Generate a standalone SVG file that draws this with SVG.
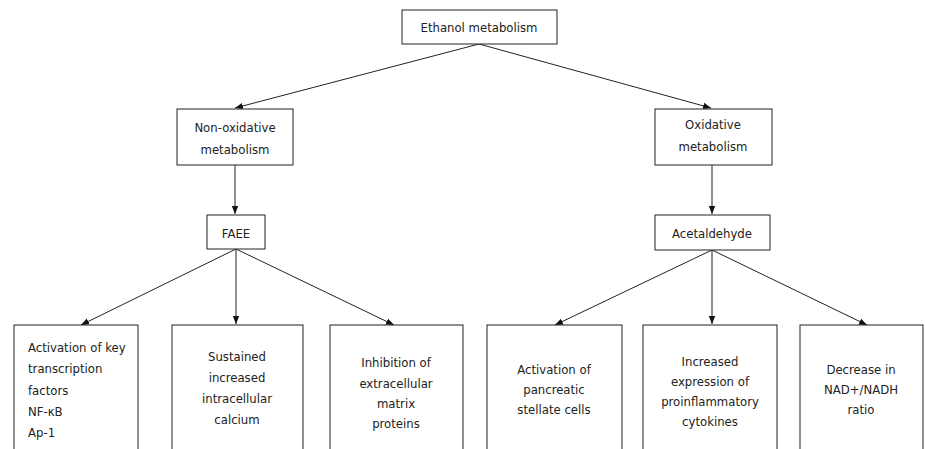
<svg xmlns="http://www.w3.org/2000/svg" width="925" height="449" viewBox="0 0 925 449">
<defs>
<marker id="ah" markerWidth="8" markerHeight="8" refX="8" refY="4" orient="auto" markerUnits="userSpaceOnUse">
<path d="M0,0.8 L8,4 L0,7.2 Z" fill="#111"/>
</marker>
<style>
rect{fill:#fff;stroke:#222;stroke-width:1}
text{font-family:"DejaVu Sans Condensed","DejaVu Sans",sans-serif;font-size:13px;fill:#222}
.c{text-anchor:middle}
#connectors line{stroke:#222;stroke-width:1;marker-end:url(#ah)}
</style>
</defs>
<rect x="0" y="0" width="925" height="449" style="fill:#fff;stroke:none"/>
<g id="connectors">
<line x1="479" y1="44" x2="235" y2="108"/>
<line x1="479" y1="44" x2="711" y2="108"/>
<line x1="235" y1="165" x2="235" y2="214"/>
<line x1="712" y1="165" x2="712" y2="214"/>
<line x1="236" y1="249" x2="81" y2="325"/>
<line x1="236" y1="249" x2="236" y2="324"/>
<line x1="236" y1="249" x2="394" y2="325"/>
<line x1="712" y1="250" x2="555" y2="325"/>
<line x1="712" y1="250" x2="712" y2="324"/>
<line x1="712" y1="250" x2="867" y2="325"/>
</g>
<g id="ethanol"><rect x="402" y="10" width="155" height="34"/><text class="c" x="479" y="32">Ethanol metabolism</text></g>
<g id="nonox"><rect x="177" y="109" width="116" height="56"/><text class="c" x="235" y="132">Non-oxidative</text><text class="c" x="235" y="154">metabolism</text></g>
<g id="ox"><rect x="655" y="109" width="117" height="56"/><text class="c" x="713" y="129">Oxidative</text><text class="c" x="713" y="151">metabolism</text></g>
<g id="faee"><rect x="207" y="215" width="58" height="34"/><text class="c" x="236" y="238">FAEE</text></g>
<g id="acet"><rect x="655" y="215" width="115" height="35"/><text class="c" x="712" y="238">Acetaldehyde</text></g>
<g id="b1"><rect x="14" y="325" width="124" height="130"/>
<text x="28" y="352">Activation of key</text><text x="28" y="373">transcription</text><text x="28" y="395">factors</text><text x="28" y="416">NF-κB</text><text x="28" y="437">Ap-1</text></g>
<g id="b2"><rect x="172" y="325" width="131" height="130"/>
<text class="c" x="237" y="361">Sustained</text><text class="c" x="237" y="382">increased</text><text class="c" x="237" y="403">intracellular</text><text class="c" x="237" y="424">calcium</text></g>
<g id="b3"><rect x="330" y="325" width="133" height="130"/>
<text class="c" x="396" y="367">Inhibition of</text><text class="c" x="396" y="388">extracellular</text><text class="c" x="396" y="408">matrix</text><text class="c" x="396" y="428">proteins</text></g>
<g id="b4"><rect x="487" y="325" width="135" height="130"/>
<text class="c" x="554" y="374">Activation of</text><text class="c" x="554" y="394">pancreatic</text><text class="c" x="554" y="414">stellate cells</text></g>
<g id="b5"><rect x="643" y="325" width="134" height="130"/>
<text class="c" x="710" y="366">Increased</text><text class="c" x="710" y="386">expression of</text><text class="c" x="710" y="406">proinflammatory</text><text class="c" x="710" y="426">cytokines</text></g>
<g id="b6"><rect x="800" y="325" width="123" height="130"/>
<text class="c" x="861" y="374">Decrease in</text><text class="c" x="861" y="394">NAD+/NADH</text><text class="c" x="861" y="414">ratio</text></g>
</svg>
